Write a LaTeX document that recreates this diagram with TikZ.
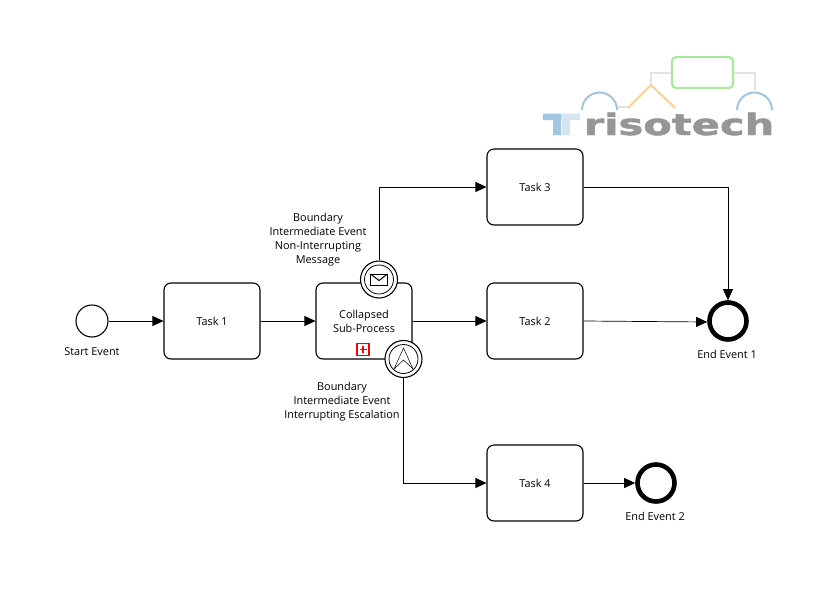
\documentclass[tikz,border=0pt]{standalone}
\usepackage{fontspec}
\setmainfont{Open Sans}
\newfontfamily\logofont[FakeBold=1.5]{DejaVu Sans Bold}
\usetikzlibrary{arrows.meta}
\definecolor{logoblue}{RGB}{160,198,226}
\definecolor{logopale}{RGB}{212,228,240}
\definecolor{logogreen}{RGB}{170,232,160}
\definecolor{logoorange}{RGB}{254,208,150}
\definecolor{logoline}{RGB}{226,226,226}
\definecolor{logotext}{RGB}{150,150,150}
\definecolor{markerred}{RGB}{255,0,0}
\begin{document}
\begin{tikzpicture}[x=1pt, y=-1pt, >={Triangle[length=11pt,width=10pt]}, node distance=152pt,
		font=\fontsize{10.9}{14}\selectfont,
		task/.style={draw, line width=1.1pt, rounded corners=7pt, minimum width=96pt, minimum height=76pt, align=center, inner sep=0pt},
		startevent/.style={draw, circle, line width=1.1pt, minimum size=32pt, inner sep=0pt},
		endevent/.style={draw, circle, line width=4.6pt, minimum size=37pt, inner sep=0pt},
		boundary/.style={draw, circle, fill=white, line width=1.1pt, minimum size=37pt, inner sep=0pt},
		innerring/.style={draw, circle, line width=0.8pt, minimum size=29pt, inner sep=0pt},
		caption/.style={align=center, inner sep=0pt},
		flow/.style={->, line width=0.7pt}]
	\useasboundingbox (0,0) rectangle (819,597);

	% logo
	\node[inner sep=0pt, anchor=base] (logoword) at (679,135) {\color{logotext}\scalebox{1.41}[1]{\logofont\fontsize{29.5}{30}\selectfont risotech}};
	\fill[logopale] (561,113.5) rectangle (580,120) (562,120) rectangle (570,135);
	\fill[logoblue] (543,113.5) rectangle (561,120) (553,120) rectangle (561,135);
	\node[draw=logogreen, line width=2.2pt, rounded corners=4pt, minimum width=61pt, minimum height=31pt, inner sep=0pt] (logotask) at (702.5,72.5) {};
	\coordinate (logoapex) at (651,85);
	\coordinate (logoright) at (755,90);
	\draw[logoline, line width=2pt] (logotask.west) -| (logoapex);
	\draw[logoline, line width=2pt] (logotask.east) -| (logoright);
	\draw[logoline, line width=2pt] (618,107) -- (628,107);
	\draw[logoorange, line width=2pt] (628,108) -- (logoapex) -- (675,108);
	\draw[logoblue, line width=2pt] (582,110) arc[start angle=180, end angle=360, radius=17.5];
	\draw[logoblue, line width=2pt] (737,110) arc[start angle=180, end angle=360, radius=17.5];

	% tasks
	\node[task] (task1) at (212,321) {Task 1};
	\node[task] (subprocess) [right of=task1] {Collapsed\\Sub-Process};
	\node[task] (task2) at (535,321) {Task 2};
	\node[task] (task3) at (535,187) {Task 3};
	\node[task] (task4) at (535,483) {Task 4};

	% events
	\node[startevent] (start) at (92,321) {};
	\node[endevent] (end1) at (728,321) {};
	\node[endevent] (end2) at (656,483) {};
	\node[boundary] (message) at (379,279.5) {};
	\node[innerring] (messagering) at (message) {};
	\node[boundary] (escalation) at (403.5,359) {};
	\node[innerring] (escalationring) at (escalation) {};

	% markers
	\node[draw=markerred, line width=1.2pt, minimum size=12pt, inner sep=0pt] (expand) at (363,349.5) {};
	\draw[draw=markerred, line width=1.2pt] (expand.center) +(-3.5,0) -- +(3.5,0) (expand.center) +(0,-3.5) -- +(0,3.5);
	\draw[line width=1pt] (message.center) +(-8.5,-5.5) rectangle +(8.5,5.5);
	\draw[line width=1pt] (message.center) +(-8.5,-5.5) -- +(0,1) -- +(8.5,-5.5);
	\draw[line width=0.5pt] (escalation.center) +(0,-11) -- +(9.5,10) -- +(0,1) -- +(-9.5,10) -- cycle;

	% captions
	\node[caption] (startlabel) at (92,352) {Start Event};
	\node[caption] (end1label) at (727,354) {End Event 1};
	\node[caption] (end2label) at (655,516) {End Event 2};
	\node[caption] (messagelabel) at (318,240) {Boundary\\Intermediate Event\\Non-Interrupting\\Message};
	\node[caption] (escalationlabel) at (342,402) {Boundary\\Intermediate Event\\Interrupting Escalation};

	\path [flow]
		(start) edge (task1)
		(task1) edge (subprocess)
		(subprocess) edge (task2)
		(task2.east) edge ([yshift=-1pt]end1.west)
		(task4) edge (end2);
	\draw [flow] (message) |- (task3);
	\draw [flow] (escalation) |- (task4);
	\draw [flow] (task3) -| (end1);
\end{tikzpicture}
\end{document}
